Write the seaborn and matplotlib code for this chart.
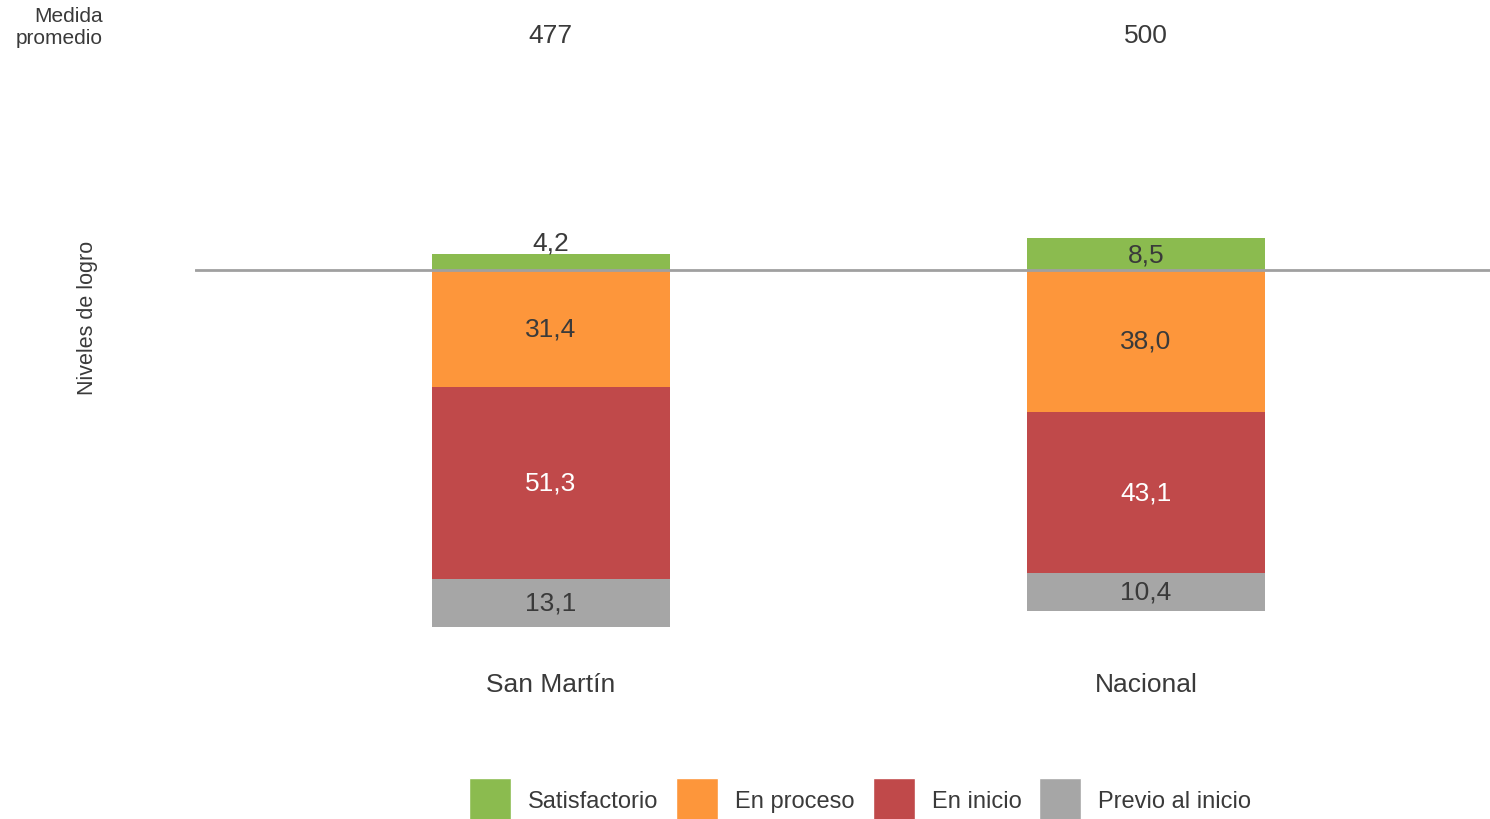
import numpy as np
import pandas as pd
import matplotlib
matplotlib.use("Agg")
import matplotlib.pyplot as plt
import matplotlib.transforms as mtransforms
from matplotlib.patches import Patch
import seaborn as sns

# Data
regions = ["San Martín", "Nacional"]
mean_scores = [477, 500]
levels = ["Satisfactorio", "En proceso", "En inicio", "Previo al inicio"]
satisfactorio = [4.2, 8.5]
en_proceso = [31.4, 38.0]
en_inicio = [51.3, 43.1]
previo = [13.1, 10.4]

colors = {"Satisfactorio": "#8BBB4F", "En proceso": "#FD963B",
          "En inicio": "#C0494A", "Previo al inicio": "#A6A6A6"}
txt = "#3a3a3a"
label_colors = {"Satisfactorio": txt, "En proceso": txt,
                "En inicio": "white", "Previo al inicio": txt}

sns.set_style("white")
plt.rcParams["font.family"] = ["Liberation Sans", "DejaVu Sans"]

# Diverging stack: Satisfactorio above zero, the rest below
df = pd.DataFrame({"region": regions, "Satisfactorio": satisfactorio,
                   "En proceso": en_proceso, "En inicio": en_inicio,
                   "Previo al inicio": previo})
df["c_proc"] = -df["En proceso"]
df["c_ini"] = df["c_proc"] - df["En inicio"]
df["c_prev"] = df["c_ini"] - df["Previo al inicio"]

fig = plt.figure(figsize=(14.9, 8.2), dpi=100)
ax = fig.add_axes([195 / 1490, 158 / 820, 1 - 195 / 1490, 440 / 820])

# draw longest cumulative bars first, shorter ones overlap them
for col, lvl in [("c_prev", "Previo al inicio"), ("c_ini", "En inicio"),
                 ("c_proc", "En proceso"), ("Satisfactorio", "Satisfactorio")]:
    sns.barplot(data=df, x="region", y=col, order=regions, color=colors[lvl],
                width=0.4, saturation=1, errorbar=None, ax=ax, linewidth=0)

ax.axhline(0, color="#A0A0A0", lw=2, zorder=5)

# segment labels
fs = 19
fmt = lambda v: f"{v:.1f}".replace(".", ",")
for i, r in df.iterrows():
    s = r["Satisfactorio"]
    if s < 6:
        ax.annotate(fmt(s), (i, s), xytext=(0, 0), textcoords="offset points",
                    ha="center", va="bottom", fontsize=fs, color=txt)
    else:
        ax.text(i, s / 2, fmt(s), ha="center", va="center", fontsize=fs,
                color=txt, zorder=6)
    for top, bot, lvl in [(0, r["c_proc"], "En proceso"),
                          (r["c_proc"], r["c_ini"], "En inicio"),
                          (r["c_ini"], r["c_prev"], "Previo al inicio")]:
        ax.text(i, (top + bot) / 2, fmt(r[lvl]), ha="center", va="center",
                fontsize=fs, color=label_colors[lvl])

ax.set_xlim(-0.598, 1.578)
ax.set_ylim(-104.8, 13.1)
ax.set_ylabel("")
ax.set_xlabel("")
ax.set_yticks([])
ax.tick_params(axis="x", length=0, pad=8, labelsize=fs, labelcolor=txt)
sns.despine(ax=ax, left=True, bottom=True)

# mean score row
trans = mtransforms.blended_transform_factory(ax.transData, fig.transFigure)
for i, m in enumerate(mean_scores):
    ax.text(i, 1 - 36 / 820, str(m), transform=trans, ha="center", va="center",
            fontsize=fs, color=txt)
fig.text(103 / 1490, 1 - 28 / 820, "Medida\npromedio", ha="right", va="center",
         multialignment="right", fontsize=15, color=txt, linespacing=1.2)
fig.text(88 / 1490, 1 - 318 / 820, "Niveles de logro", rotation=90,
         ha="center", va="center", fontsize=15.5, color=txt)

handles = [Patch(facecolor=colors[l], label=l) for l in levels]
fig.legend(handles=handles, loc="center", bbox_to_anchor=(860 / 1490, 19 / 820),
           ncol=4, frameon=False, fontsize=17, handlelength=1.78, handleheight=2.49,
           handletextpad=0.72, columnspacing=0.76, borderpad=0, labelcolor=txt)

fig.savefig("out.png", dpi=100)
